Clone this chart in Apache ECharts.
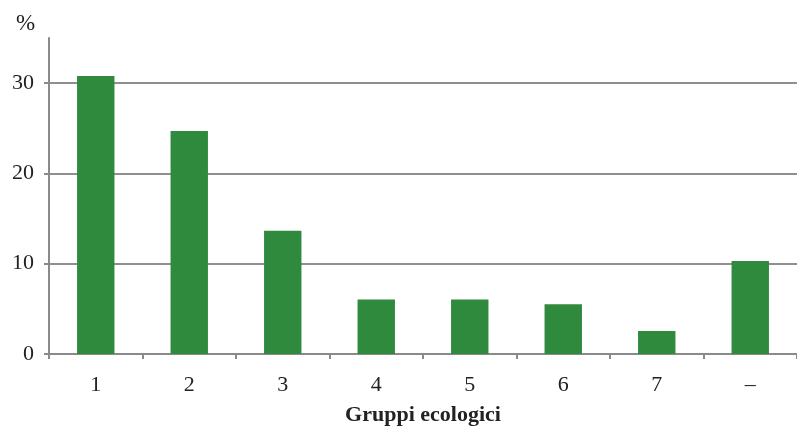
<!DOCTYPE html>
<html>
<head>
<meta charset="utf-8">
<script src="https://cdn.jsdelivr.net/npm/echarts@6/dist/echarts.min.js"></script>
<style>html,body{margin:0;padding:0;background:#fff;}#c{width:797px;height:432px;}</style>
</head>
<body>
<div id="c"></div>
<script>
const categories = ['1', '2', '3', '4', '5', '6', '7', '–'];
const percentValues = [30.8, 24.7, 13.65, 6.05, 6.05, 5.5, 2.55, 10.3];
const yTicks = [0, 10, 20, 30];

const chart = echarts.init(document.getElementById('c'), null, {renderer: 'canvas'});
const font = '"Liberation Serif", "DejaVu Serif", serif';
chart.setOption({
  animation: false,
  backgroundColor: '#ffffff',
  grid: {left: 49, right: 0, top: 38, bottom: 78, containLabel: false},
  title: [
    {text: '%', left: 11, top: 7, textStyle: {fontFamily: font, fontSize: 23, fontWeight: 'normal', color: '#222'}},
  ],
  xAxis: {
    type: 'category',
    data: categories,
    name: 'Gruppi ecologici',
    nameLocation: 'middle',
    nameGap: 50,
    nameTextStyle: {fontFamily: font, fontSize: 22, fontWeight: 'bold', color: '#222'},
    axisLine: {lineStyle: {color: '#8a8a8a', width: 2}},
    axisTick: {show: true, alignWithLabel: false, length: 5, lineStyle: {color: '#8a8a8a', width: 2}},
    axisLabel: {fontFamily: font, fontSize: 22, color: '#222', margin: 20}
  },
  yAxis: {
    type: 'value',
    min: 0,
    max: 35,
    interval: 10,
    axisLine: {show: true, lineStyle: {color: '#8a8a8a', width: 2}},
    axisTick: {show: true, length: 5, lineStyle: {color: '#8a8a8a', width: 2}},
    axisLabel: {fontFamily: font, fontSize: 22, color: '#222', margin: 15, showMaxLabel: false,
      formatter: v => (yTicks.indexOf(v) >= 0 ? String(v) : '')},
    splitLine: {show: true, showMaxLine: false, lineStyle: {color: '#8f8f8f', width: 2}}
  },
  series: [{
    type: 'bar',
    data: percentValues,
    barWidth: '40%',
    itemStyle: {color: '#2f8a3e'}
  }]
});
</script>
</body>
</html>
